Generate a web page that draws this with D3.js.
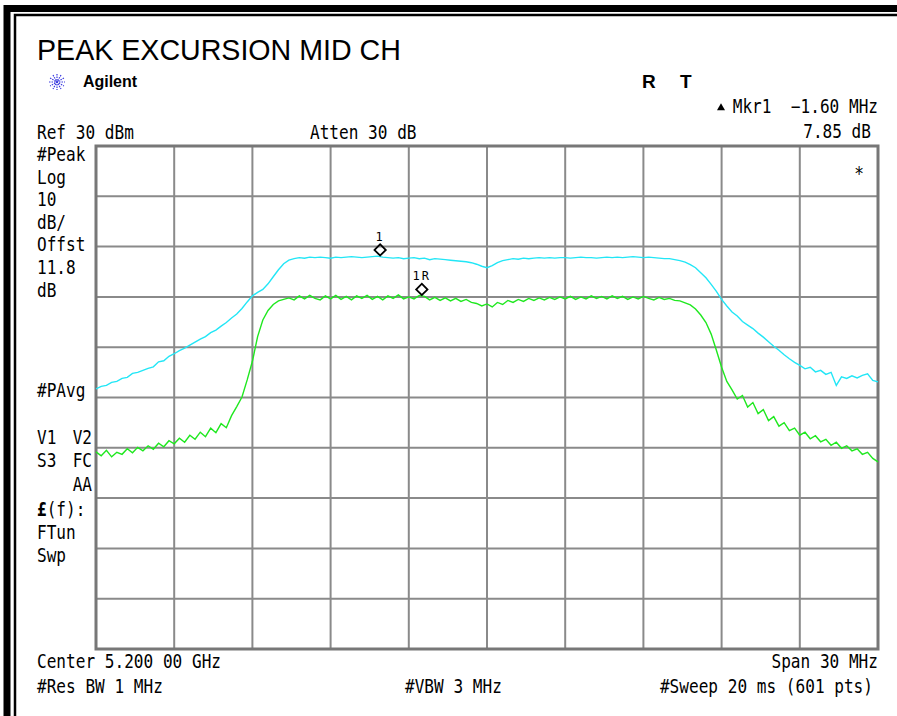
<!DOCTYPE html>
<html>
<head>
<meta charset="utf-8">
<script src="https://cdn.jsdelivr.net/npm/d3@7/dist/d3.min.js"></script>
<style>
  body { margin: 0; background: #fff; }
  svg { display: block; }
</style>
</head>
<body>
<div id="chart"></div>
<script>
// sweep: 151 readings from -15 MHz to +15 MHz around 5.200 GHz, dBm
var peakTrace = [
  -18.3, -17.8, -17.6, -17.0, -16.8, -16.2, -16.0, -15.2, -15.0, -14.6,
  -14.2, -13.9, -12.9, -12.7, -11.8, -11.3, -10.7, -10.2, -9.6, -9.0,
  -8.4, -7.9, -7.1, -6.6, -5.8, -5.1, -4.2, -3.4, -2.3, -1.0,
  0.2, 0.9, 1.5, 2.6, 4.0, 5.4, 6.6, 7.3, 7.6, 7.8,
  7.7, 7.9, 7.8, 7.9, 7.8, 7.7, 7.9, 7.8, 7.9, 8.0,
  7.9, 7.8, 7.9, 8.0, 8.1, 7.9, 7.8, 7.7, 7.8, 7.6,
  7.7, 7.8, 7.6, 7.7, 7.4, 7.6, 7.5, 7.4, 7.3, 7.2,
  7.1, 7.0, 6.8, 6.5, 6.1, 5.8, 6.2, 6.8, 7.2, 7.4,
  7.6, 7.5, 7.7, 7.6, 7.7, 7.8, 7.7, 7.8, 7.7, 7.8,
  7.8, 7.7, 7.8, 7.9, 7.8, 7.8, 7.7, 7.8, 7.9, 7.8,
  7.9, 7.8, 7.9, 8.0, 7.9, 7.8, 7.9, 7.8, 7.7, 7.6,
  7.6, 7.4, 7.2, 6.9, 6.4, 5.8, 4.8, 3.8, 2.5, 1.1,
  -0.5, -1.8, -3.0, -3.8, -4.9, -5.6, -6.3, -7.2, -8.0, -8.9,
  -9.8, -10.6, -11.5, -12.3, -13.0, -13.6, -14.3, -14.0, -14.9, -14.6,
  -15.4, -15.0, -17.6, -15.9, -16.2, -15.7, -16.1, -15.6, -15.3, -16.6,
  -16.9
];
var avgTrace = [
  -30.8, -31.6, -30.5, -31.8, -30.9, -31.3, -30.2, -31.0, -29.9, -30.6,
  -29.6, -30.3, -29.1, -29.8, -28.6, -29.2, -28.1, -28.9, -27.5, -28.3,
  -26.9, -27.8, -26.1, -27.0, -25.2, -26.0, -23.6, -21.8, -19.9, -16.5,
  -12.8, -7.9, -4.6, -2.7, -1.5, -0.8, -0.5, -0.2, -0.6, 0.2,
  -0.4, 0.3, -0.3, -0.6, 0.2, -0.4, 0.3, -0.5, 0.1, -0.6,
  0.2, -0.3, 0.3, -0.5, 0.1, -0.6, 0.2, -0.3, 0.4, -0.4,
  0.0, -0.4, 0.3, 0.1, -0.6, -0.1, -0.7, -0.2, -0.8, -0.3,
  -0.9, -0.5, -1.1, -1.3, -1.8, -1.4, -2.0, -1.1, -1.5, -0.7,
  -1.1, -0.5, -0.9, -0.3, -0.7, -0.2, -0.6, -0.1, -0.5, 0.0,
  -0.4, 0.1, -0.5, 0.0, -0.4, 0.2, -0.3, 0.1, -0.4, 0.2,
  -0.3, 0.1, -0.5, 0.0, -0.4, 0.1, -0.3, -0.6, -0.1, -0.5,
  -0.3, -0.7, -0.8, -1.2, -1.6, -2.4, -3.6, -5.1, -7.4, -10.6,
  -14.0, -16.8, -18.5, -20.3, -19.6, -21.9, -21.0, -23.2, -22.4, -24.6,
  -23.8, -25.7, -25.0, -26.6, -26.1, -27.5, -26.9, -28.2, -27.6, -28.8,
  -28.3, -29.5, -28.9, -30.1, -29.6, -30.6, -30.2, -31.3, -30.9, -32.1,
  -32.8
];
var spanStart = -15, spanStop = 15, sweepStep = 0.2;
var refLevel = 30, bottomLevel = -70;
var freqDivs = [-15, -12, -9, -6, -3, 0, 3, 6, 9, 12, 15];
var levelDivs = [30, 20, 10, 0, -10, -20, -30, -40, -50, -60, -70];

var markerFreqs = [-4.1, -2.5];
var markerLevels = [7.95, 0.1];
var markerNames = ['1', '1R'];

var leftLabels = ['#Peak', 'Log', '10', 'dB/', 'Offst', '11.8', 'dB'];
var leftLabels2 = ['V1', 'S3', '', '', 'FTun', 'Swp'];
var leftLabels2b = ['V2', 'FC', 'AA', '', '', ''];

var width = 897, height = 716;
var svg = d3.select('#chart')
  .append('svg')
  .attr('width', width)
  .attr('height', height);

var x = d3.scaleLinear().domain([spanStart, spanStop]).range([96, 878]);
var y = d3.scaleLinear().domain([bottomLevel, refLevel]).range([649, 146]);

// scanned frame
svg.append('path')
  .attr('d', 'M7,716 V8.5 H897')
  .attr('fill', 'none').attr('stroke', '#000').attr('stroke-width', 7);
svg.append('path')
  .attr('d', 'M15,716 V15 H897')
  .attr('fill', 'none').attr('stroke', '#000').attr('stroke-width', 2.5);

// instrument-style text helper
function mono(px, py, str, anchor, bold) {
  return svg.append('text')
    .attr('transform', 'translate(' + px + ',' + py + ') scale(1,1.18)')
    .attr('font-family', 'DejaVu Sans Mono, monospace')
    .attr('font-size', 16.1)
    .attr('font-weight', bold ? 'bold' : 'normal')
    .attr('text-anchor', anchor || 'start')
    .attr('fill', '#000')
    .attr('xml:space', 'preserve')
    .text(str);
}

svg.append('text')
  .attr('x', 37).attr('y', 60)
  .attr('font-family', 'Liberation Sans, Arial, sans-serif')
  .attr('font-size', 28.6)
  .text('PEAK EXCURSION MID CH');

// agilent spark
var spark = svg.append('g').attr('transform', 'translate(57,82)');
d3.range(0, 180, 30).forEach(function(a) {
  var r = a * Math.PI / 180;
  spark.append('line')
    .attr('x1', -8 * Math.cos(r)).attr('y1', -8 * Math.sin(r))
    .attr('x2', 8 * Math.cos(r)).attr('y2', 8 * Math.sin(r))
    .attr('stroke', '#3a3ae0').attr('stroke-width', 1.2)
    .attr('stroke-dasharray', '1.5,1');
});
svg.append('text')
  .attr('x', 83).attr('y', 87)
  .attr('font-family', 'Liberation Sans, Arial, sans-serif')
  .attr('font-weight', 'bold')
  .attr('font-size', 16)
  .attr('textLength', 54)
  .text('Agilent');

svg.append('text')
  .attr('x', 642).attr('y', 88)
  .attr('font-family', 'Liberation Sans, Arial, sans-serif')
  .attr('font-weight', 'bold').attr('font-size', 19)
  .text('R');
svg.append('text')
  .attr('x', 680).attr('y', 88)
  .attr('font-family', 'Liberation Sans, Arial, sans-serif')
  .attr('font-weight', 'bold').attr('font-size', 19)
  .text('T');

svg.append('path')
  .attr('d', d3.symbol().type(d3.symbolTriangle).size(28)())
  .attr('transform', 'translate(721,108)')
  .attr('fill', '#000');
mono(878, 113, 'Mkr1  \u22121.60 MHz', 'end');
mono(871, 138, '7.85 dB', 'end');
mono(37, 139, 'Ref 30 dBm');
mono(310, 139, 'Atten 30 dB');

leftLabels.forEach(function(t, i) {
  mono(37, 161 + i * 22.6, t);
});
mono(37, 397, '#PAvg');
var rows2 = [444, 467, 491, 516, 539, 562];
leftLabels2.forEach(function(t, i) {
  if (t) mono(37, rows2[i], t);
});
leftLabels2b.forEach(function(t, i) {
  if (t) mono(92, rows2[i], t, 'end');
});
var fLabel = mono(37, rows2[3], '');
fLabel.append('tspan').attr('font-weight', 'bold').text('£');
fLabel.append('tspan').text('(f):');

mono(37, 668, 'Center 5.200 00 GHz');
mono(878, 668, 'Span 30 MHz', 'end');
mono(37, 693, '#Res BW 1 MHz');
mono(405, 693, '#VBW 3 MHz');
mono(873, 693, '#Sweep 20 ms (601 pts)', 'end');

// graticule
var grid = svg.append('g');
grid.selectAll('line.v')
  .data(freqDivs)
  .enter()
  .append('line')
  .attr('x1', function(d) { return x(d); })
  .attr('x2', function(d) { return x(d); })
  .attr('y1', y(refLevel)).attr('y2', y(bottomLevel))
  .attr('stroke', '#8a8a8a').attr('stroke-width', 2);
grid.selectAll('line.h')
  .data(levelDivs)
  .enter()
  .append('line')
  .attr('x1', x(spanStart)).attr('x2', x(spanStop))
  .attr('y1', function(d) { return y(d); })
  .attr('y2', function(d) { return y(d); })
  .attr('stroke', '#8a8a8a').attr('stroke-width', 2);
grid.append('rect')
  .attr('x', x(spanStart)).attr('y', y(refLevel))
  .attr('width', x(spanStop) - x(spanStart))
  .attr('height', y(bottomLevel) - y(refLevel))
  .attr('fill', 'none').attr('stroke', '#777').attr('stroke-width', 3);

mono(859, 180, '*', 'middle');

// traces
var line = d3.line()
  .x(function(d, i) { return x(spanStart + i * sweepStep); })
  .y(function(d) { return y(d); });

svg.append('path')
  .datum(peakTrace)
  .attr('fill', 'none')
  .attr('stroke', '#22e6f6')
  .attr('stroke-width', 1.4)
  .attr('d', line);
svg.append('path')
  .datum(avgTrace)
  .attr('fill', 'none')
  .attr('stroke', '#1fe81f')
  .attr('stroke-width', 1.4)
  .attr('d', line);

// markers
var diamond = d3.symbol().type(d3.symbolSquare).size(64);
markerFreqs.forEach(function(f, i) {
  var mx = x(f), my = y(markerLevels[i]) - 7;
  svg.append('path')
    .attr('d', diamond())
    .attr('transform', 'translate(' + mx + ',' + my + ') rotate(45)')
    .attr('fill', 'none').attr('stroke', '#000').attr('stroke-width', 1.8);
  svg.append('text')
    .attr('x', mx).attr('y', my - 9)
    .attr('text-anchor', 'middle')
    .attr('font-family', 'DejaVu Sans Mono, monospace')
    .attr('font-size', 12)
    .attr('letter-spacing', 2)
    .text(markerNames[i]);
});
</script>
</body>
</html>
